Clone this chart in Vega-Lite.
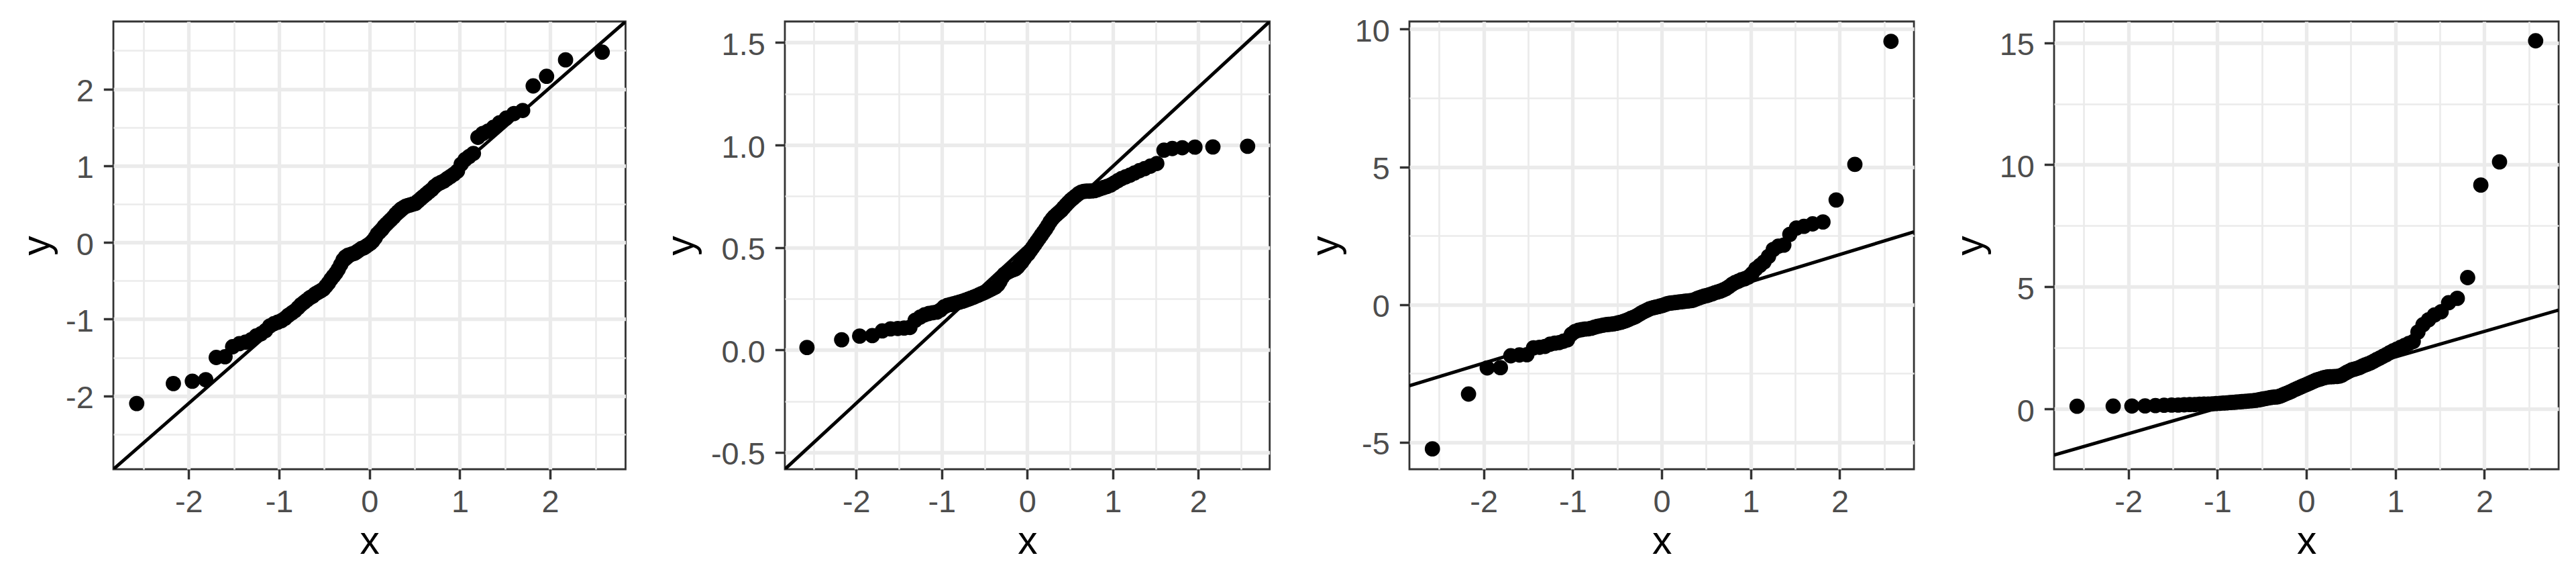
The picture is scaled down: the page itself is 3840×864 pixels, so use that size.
{
  "$schema": "https://vega.github.io/schema/vega-lite/v6.json",
  "background": "white",
  "padding": {"left": 24, "top": 22, "right": 0, "bottom": 0},
  "bounds": "flush",
  "spacing": 0,
  "config": {
    "font": "Liberation Sans",
    "view": {"stroke": "#333333", "strokeWidth": 2.8, "fill": "white"},
    "axis": {
      "domain": false,
      "labelFont": "Liberation Sans",
      "labelFontSize": 46.9,
      "labelColor": "#4D4D4D",
      "titleFont": "Liberation Sans",
      "titleFontSize": 58.7,
      "titleFontWeight": "normal",
      "titleColor": "#000000",
      "tickColor": "#333333",
      "tickWidth": 3.5,
      "tickSize": 14.7,
      "gridColor": "#EBEBEB",
      "labelOverlap": false,
      "labelFlush": false,
      "labelBound": false
    },
    "axisX": {"labelPadding": 11.5, "minExtent": 79, "maxExtent": 79, "titlePadding": 0},
    "axisY": {"labelPadding": 15, "labelOffset": 4, "titlePadding": 0}
  },
  "datasets": {
    "l1": [{"x": -2.834, "y": -2.957, "x2": 2.834, "y2": 2.88}],
    "l2": [{"x": -2.834, "y": -0.582, "x2": 2.834, "y2": 1.603}],
    "l3": [{"x": -2.834, "y": -2.95, "x2": 2.834, "y2": 2.64}],
    "l4": [{"x": -2.834, "y": -1.89, "x2": 2.834, "y2": 4.05}],
    "p1": [
      {"x": -2.5758, "y": -2.10}, {"x": -2.1701, "y": -1.84}, {"x": -1.96, "y": -1.81}, {"x": -1.8119, "y": -1.79}, {"x": -1.6954, "y": -1.50},
      {"x": -1.5982, "y": -1.49}, {"x": -1.5141, "y": -1.36}, {"x": -1.4395, "y": -1.32}, {"x": -1.3722, "y": -1.30}, {"x": -1.3106, "y": -1.27},
      {"x": -1.2536, "y": -1.22}, {"x": -1.2004, "y": -1.19}, {"x": -1.1503, "y": -1.15}, {"x": -1.1031, "y": -1.09}, {"x": -1.0581, "y": -1.06},
      {"x": -1.0152, "y": -1.04}, {"x": -0.9741, "y": -1.02}, {"x": -0.9346, "y": -0.99}, {"x": -0.8965, "y": -0.95}, {"x": -0.8596, "y": -0.92},
      {"x": -0.8239, "y": -0.89}, {"x": -0.7892, "y": -0.85}, {"x": -0.7554, "y": -0.81}, {"x": -0.7225, "y": -0.78}, {"x": -0.6903, "y": -0.75},
      {"x": -0.6588, "y": -0.72}, {"x": -0.628, "y": -0.70}, {"x": -0.5978, "y": -0.67}, {"x": -0.5681, "y": -0.65}, {"x": -0.5388, "y": -0.63},
      {"x": -0.5101, "y": -0.61}, {"x": -0.4817, "y": -0.57}, {"x": -0.4538, "y": -0.53}, {"x": -0.4261, "y": -0.48}, {"x": -0.3989, "y": -0.44},
      {"x": -0.3719, "y": -0.40}, {"x": -0.3451, "y": -0.35}, {"x": -0.3186, "y": -0.29}, {"x": -0.2924, "y": -0.23}, {"x": -0.2663, "y": -0.19},
      {"x": -0.2404, "y": -0.17}, {"x": -0.2147, "y": -0.16}, {"x": -0.1891, "y": -0.15}, {"x": -0.1637, "y": -0.14}, {"x": -0.1383, "y": -0.12},
      {"x": -0.113, "y": -0.10}, {"x": -0.0878, "y": -0.08}, {"x": -0.0627, "y": -0.07}, {"x": -0.0376, "y": -0.05}, {"x": -0.0125, "y": -0.03},
      {"x": 0.0125, "y": -0.01}, {"x": 0.0376, "y": 0.02}, {"x": 0.0627, "y": 0.06}, {"x": 0.0878, "y": 0.11}, {"x": 0.113, "y": 0.14},
      {"x": 0.1383, "y": 0.17}, {"x": 0.1637, "y": 0.21}, {"x": 0.1891, "y": 0.24}, {"x": 0.2147, "y": 0.27}, {"x": 0.2404, "y": 0.30},
      {"x": 0.2663, "y": 0.33}, {"x": 0.2924, "y": 0.37}, {"x": 0.3186, "y": 0.40}, {"x": 0.3451, "y": 0.43}, {"x": 0.3719, "y": 0.45},
      {"x": 0.3989, "y": 0.47}, {"x": 0.4261, "y": 0.48}, {"x": 0.4538, "y": 0.49}, {"x": 0.4817, "y": 0.50}, {"x": 0.5101, "y": 0.51},
      {"x": 0.5388, "y": 0.54}, {"x": 0.5681, "y": 0.57}, {"x": 0.5978, "y": 0.60}, {"x": 0.628, "y": 0.63}, {"x": 0.6588, "y": 0.66},
      {"x": 0.6903, "y": 0.69}, {"x": 0.7225, "y": 0.73}, {"x": 0.7554, "y": 0.76}, {"x": 0.7892, "y": 0.78}, {"x": 0.8239, "y": 0.80},
      {"x": 0.8596, "y": 0.83}, {"x": 0.8965, "y": 0.86}, {"x": 0.9346, "y": 0.89}, {"x": 0.9741, "y": 0.93}, {"x": 1.0152, "y": 1.02},
      {"x": 1.0581, "y": 1.08}, {"x": 1.1031, "y": 1.12}, {"x": 1.1503, "y": 1.16}, {"x": 1.2004, "y": 1.37}, {"x": 1.2536, "y": 1.42},
      {"x": 1.3106, "y": 1.45}, {"x": 1.3722, "y": 1.50}, {"x": 1.4395, "y": 1.56}, {"x": 1.5141, "y": 1.62}, {"x": 1.5982, "y": 1.68},
      {"x": 1.6954, "y": 1.72}, {"x": 1.8119, "y": 2.04}, {"x": 1.96, "y": 2.165}, {"x": 2.1701, "y": 2.38}, {"x": 2.5758, "y": 2.48}
    ],
    "p2": [
      {"x": -2.5758, "y": 0.012}, {"x": -2.1701, "y": 0.05}, {"x": -1.96, "y": 0.068}, {"x": -1.8119, "y": 0.07}, {"x": -1.6954, "y": 0.093},
      {"x": -1.5982, "y": 0.103}, {"x": -1.5141, "y": 0.105}, {"x": -1.4395, "y": 0.107}, {"x": -1.3722, "y": 0.11}, {"x": -1.3106, "y": 0.145},
      {"x": -1.2536, "y": 0.16}, {"x": -1.2004, "y": 0.172}, {"x": -1.1503, "y": 0.178}, {"x": -1.1031, "y": 0.182}, {"x": -1.0581, "y": 0.185},
      {"x": -1.0152, "y": 0.195}, {"x": -0.9741, "y": 0.21}, {"x": -0.9346, "y": 0.218}, {"x": -0.8965, "y": 0.222}, {"x": -0.8596, "y": 0.226},
      {"x": -0.8239, "y": 0.23}, {"x": -0.7892, "y": 0.234}, {"x": -0.7554, "y": 0.238}, {"x": -0.7225, "y": 0.243}, {"x": -0.6903, "y": 0.248},
      {"x": -0.6588, "y": 0.253}, {"x": -0.628, "y": 0.258}, {"x": -0.5978, "y": 0.263}, {"x": -0.5681, "y": 0.268}, {"x": -0.5388, "y": 0.274},
      {"x": -0.5101, "y": 0.279}, {"x": -0.4817, "y": 0.285}, {"x": -0.4538, "y": 0.29}, {"x": -0.4261, "y": 0.296}, {"x": -0.3989, "y": 0.302},
      {"x": -0.3719, "y": 0.308}, {"x": -0.3451, "y": 0.318}, {"x": -0.3186, "y": 0.335}, {"x": -0.2924, "y": 0.355}, {"x": -0.2663, "y": 0.37},
      {"x": -0.2404, "y": 0.377}, {"x": -0.2147, "y": 0.383}, {"x": -0.1891, "y": 0.388}, {"x": -0.1637, "y": 0.392}, {"x": -0.1383, "y": 0.396},
      {"x": -0.113, "y": 0.405}, {"x": -0.0878, "y": 0.418}, {"x": -0.0627, "y": 0.43}, {"x": -0.0376, "y": 0.445}, {"x": -0.0125, "y": 0.46},
      {"x": 0.0125, "y": 0.47}, {"x": 0.0376, "y": 0.485}, {"x": 0.0627, "y": 0.50}, {"x": 0.0878, "y": 0.515}, {"x": 0.113, "y": 0.53},
      {"x": 0.1383, "y": 0.545}, {"x": 0.1637, "y": 0.56}, {"x": 0.1891, "y": 0.575}, {"x": 0.2147, "y": 0.59}, {"x": 0.2404, "y": 0.607},
      {"x": 0.2663, "y": 0.625}, {"x": 0.2924, "y": 0.64}, {"x": 0.3186, "y": 0.652}, {"x": 0.3451, "y": 0.662}, {"x": 0.3719, "y": 0.672},
      {"x": 0.3989, "y": 0.682}, {"x": 0.4261, "y": 0.695}, {"x": 0.4538, "y": 0.708}, {"x": 0.4817, "y": 0.72}, {"x": 0.5101, "y": 0.732},
      {"x": 0.5388, "y": 0.742}, {"x": 0.5681, "y": 0.752}, {"x": 0.5978, "y": 0.762}, {"x": 0.628, "y": 0.77}, {"x": 0.6588, "y": 0.774},
      {"x": 0.6903, "y": 0.775}, {"x": 0.7225, "y": 0.775}, {"x": 0.7554, "y": 0.776}, {"x": 0.7892, "y": 0.778}, {"x": 0.8239, "y": 0.783},
      {"x": 0.8596, "y": 0.788}, {"x": 0.8965, "y": 0.793}, {"x": 0.9346, "y": 0.798}, {"x": 0.9741, "y": 0.805}, {"x": 1.0152, "y": 0.815},
      {"x": 1.0581, "y": 0.826}, {"x": 1.1031, "y": 0.837}, {"x": 1.1503, "y": 0.845}, {"x": 1.2004, "y": 0.853}, {"x": 1.2536, "y": 0.864},
      {"x": 1.3106, "y": 0.875}, {"x": 1.3722, "y": 0.885}, {"x": 1.4395, "y": 0.897}, {"x": 1.5141, "y": 0.91}, {"x": 1.5982, "y": 0.975},
      {"x": 1.6954, "y": 0.983}, {"x": 1.8119, "y": 0.987}, {"x": 1.96, "y": 0.99}, {"x": 2.1701, "y": 0.991}, {"x": 2.5758, "y": 0.994}
    ],
    "p3": [
      {"x": -2.5758, "y": -5.24}, {"x": -2.1701, "y": -3.25}, {"x": -1.96, "y": -2.30}, {"x": -1.8119, "y": -2.29}, {"x": -1.6954, "y": -1.86},
      {"x": -1.5982, "y": -1.83}, {"x": -1.5141, "y": -1.82}, {"x": -1.4395, "y": -1.57}, {"x": -1.3722, "y": -1.55}, {"x": -1.3106, "y": -1.52},
      {"x": -1.2536, "y": -1.44}, {"x": -1.2004, "y": -1.40}, {"x": -1.1503, "y": -1.38}, {"x": -1.1031, "y": -1.33}, {"x": -1.0581, "y": -1.28},
      {"x": -1.0152, "y": -1.08}, {"x": -0.9741, "y": -0.98}, {"x": -0.9346, "y": -0.93}, {"x": -0.8965, "y": -0.91}, {"x": -0.8596, "y": -0.89},
      {"x": -0.8239, "y": -0.88}, {"x": -0.7892, "y": -0.86}, {"x": -0.7554, "y": -0.82}, {"x": -0.7225, "y": -0.79}, {"x": -0.6903, "y": -0.77},
      {"x": -0.6588, "y": -0.75}, {"x": -0.628, "y": -0.73}, {"x": -0.5978, "y": -0.72}, {"x": -0.5681, "y": -0.71}, {"x": -0.5388, "y": -0.70},
      {"x": -0.5101, "y": -0.68}, {"x": -0.4817, "y": -0.66}, {"x": -0.4538, "y": -0.64}, {"x": -0.4261, "y": -0.61}, {"x": -0.3989, "y": -0.58},
      {"x": -0.3719, "y": -0.54}, {"x": -0.3451, "y": -0.50}, {"x": -0.3186, "y": -0.47}, {"x": -0.2924, "y": -0.43}, {"x": -0.2663, "y": -0.38},
      {"x": -0.2404, "y": -0.33}, {"x": -0.2147, "y": -0.28}, {"x": -0.1891, "y": -0.24}, {"x": -0.1637, "y": -0.20}, {"x": -0.1383, "y": -0.16},
      {"x": -0.113, "y": -0.13}, {"x": -0.0878, "y": -0.11}, {"x": -0.0627, "y": -0.09}, {"x": -0.0376, "y": -0.07}, {"x": -0.0125, "y": -0.05},
      {"x": 0.0125, "y": -0.03}, {"x": 0.0376, "y": 0.0}, {"x": 0.0627, "y": 0.03}, {"x": 0.0878, "y": 0.05}, {"x": 0.113, "y": 0.06},
      {"x": 0.1383, "y": 0.07}, {"x": 0.1637, "y": 0.08}, {"x": 0.1891, "y": 0.09}, {"x": 0.2147, "y": 0.10}, {"x": 0.2404, "y": 0.11},
      {"x": 0.2663, "y": 0.12}, {"x": 0.2924, "y": 0.13}, {"x": 0.3186, "y": 0.14}, {"x": 0.3451, "y": 0.15}, {"x": 0.3719, "y": 0.18},
      {"x": 0.3989, "y": 0.22}, {"x": 0.4261, "y": 0.25}, {"x": 0.4538, "y": 0.28}, {"x": 0.4817, "y": 0.31}, {"x": 0.5101, "y": 0.33},
      {"x": 0.5388, "y": 0.36}, {"x": 0.5681, "y": 0.39}, {"x": 0.5978, "y": 0.43}, {"x": 0.628, "y": 0.46}, {"x": 0.6588, "y": 0.49},
      {"x": 0.6903, "y": 0.53}, {"x": 0.7225, "y": 0.58}, {"x": 0.7554, "y": 0.65}, {"x": 0.7892, "y": 0.73}, {"x": 0.8239, "y": 0.80},
      {"x": 0.8596, "y": 0.85}, {"x": 0.8965, "y": 0.90}, {"x": 0.9346, "y": 0.94}, {"x": 0.9741, "y": 1.00}, {"x": 1.0152, "y": 1.12},
      {"x": 1.0581, "y": 1.30}, {"x": 1.1031, "y": 1.42}, {"x": 1.1503, "y": 1.55}, {"x": 1.2004, "y": 1.75}, {"x": 1.2536, "y": 2.00},
      {"x": 1.3106, "y": 2.12}, {"x": 1.3722, "y": 2.16}, {"x": 1.4395, "y": 2.55}, {"x": 1.5141, "y": 2.78}, {"x": 1.5982, "y": 2.84},
      {"x": 1.6954, "y": 2.93}, {"x": 1.8119, "y": 3.00}, {"x": 1.96, "y": 3.80}, {"x": 2.1701, "y": 5.09}, {"x": 2.5758, "y": 9.56}
    ],
    "p4": [
      {"x": -2.5758, "y": 0.11}, {"x": -2.1701, "y": 0.115}, {"x": -1.96, "y": 0.12}, {"x": -1.8119, "y": 0.125}, {"x": -1.6954, "y": 0.14},
      {"x": -1.5982, "y": 0.15}, {"x": -1.5141, "y": 0.16}, {"x": -1.4395, "y": 0.16}, {"x": -1.3722, "y": 0.17}, {"x": -1.3106, "y": 0.18},
      {"x": -1.2536, "y": 0.18}, {"x": -1.2004, "y": 0.19}, {"x": -1.1503, "y": 0.20}, {"x": -1.1031, "y": 0.20}, {"x": -1.0581, "y": 0.21},
      {"x": -1.0152, "y": 0.22}, {"x": -0.9741, "y": 0.23}, {"x": -0.9346, "y": 0.24}, {"x": -0.8965, "y": 0.25}, {"x": -0.8596, "y": 0.26},
      {"x": -0.8239, "y": 0.27}, {"x": -0.7892, "y": 0.28}, {"x": -0.7554, "y": 0.29}, {"x": -0.7225, "y": 0.30}, {"x": -0.6903, "y": 0.31},
      {"x": -0.6588, "y": 0.32}, {"x": -0.628, "y": 0.33}, {"x": -0.5978, "y": 0.34}, {"x": -0.5681, "y": 0.35}, {"x": -0.5388, "y": 0.37},
      {"x": -0.5101, "y": 0.39}, {"x": -0.4817, "y": 0.41}, {"x": -0.4538, "y": 0.43}, {"x": -0.4261, "y": 0.45}, {"x": -0.3989, "y": 0.47},
      {"x": -0.3719, "y": 0.48}, {"x": -0.3451, "y": 0.49}, {"x": -0.3186, "y": 0.50}, {"x": -0.2924, "y": 0.53}, {"x": -0.2663, "y": 0.57},
      {"x": -0.2404, "y": 0.61}, {"x": -0.2147, "y": 0.65}, {"x": -0.1891, "y": 0.69}, {"x": -0.1637, "y": 0.73}, {"x": -0.1383, "y": 0.78},
      {"x": -0.113, "y": 0.82}, {"x": -0.0878, "y": 0.86}, {"x": -0.0627, "y": 0.90}, {"x": -0.0376, "y": 0.94}, {"x": -0.0125, "y": 0.98},
      {"x": 0.0125, "y": 1.02}, {"x": 0.0376, "y": 1.06}, {"x": 0.0627, "y": 1.10}, {"x": 0.0878, "y": 1.14}, {"x": 0.113, "y": 1.18},
      {"x": 0.1383, "y": 1.21}, {"x": 0.1637, "y": 1.24}, {"x": 0.1891, "y": 1.27}, {"x": 0.2147, "y": 1.29}, {"x": 0.2404, "y": 1.31},
      {"x": 0.2663, "y": 1.32}, {"x": 0.2924, "y": 1.32}, {"x": 0.3186, "y": 1.33}, {"x": 0.3451, "y": 1.33}, {"x": 0.3719, "y": 1.35},
      {"x": 0.3989, "y": 1.38}, {"x": 0.4261, "y": 1.44}, {"x": 0.4538, "y": 1.50}, {"x": 0.4817, "y": 1.55}, {"x": 0.5101, "y": 1.60},
      {"x": 0.5388, "y": 1.63}, {"x": 0.5681, "y": 1.66}, {"x": 0.5978, "y": 1.70}, {"x": 0.628, "y": 1.75}, {"x": 0.6588, "y": 1.80},
      {"x": 0.6903, "y": 1.84}, {"x": 0.7225, "y": 1.89}, {"x": 0.7554, "y": 1.95}, {"x": 0.7892, "y": 2.02}, {"x": 0.8239, "y": 2.08},
      {"x": 0.8596, "y": 2.15}, {"x": 0.8965, "y": 2.22}, {"x": 0.9346, "y": 2.30}, {"x": 0.9741, "y": 2.38}, {"x": 1.0152, "y": 2.45},
      {"x": 1.0581, "y": 2.52}, {"x": 1.1031, "y": 2.60}, {"x": 1.1503, "y": 2.68}, {"x": 1.2004, "y": 2.76}, {"x": 1.2536, "y": 3.15},
      {"x": 1.3106, "y": 3.45}, {"x": 1.3722, "y": 3.65}, {"x": 1.4395, "y": 3.85}, {"x": 1.5141, "y": 3.98}, {"x": 1.5982, "y": 4.35},
      {"x": 1.6954, "y": 4.53}, {"x": 1.8119, "y": 5.38}, {"x": 1.96, "y": 9.17}, {"x": 2.1701, "y": 10.12}, {"x": 2.5758, "y": 15.08}
    ]
  },
  "hconcat": [
    {
      "width": 763.5,
      "height": 667,
      "encoding": {
        "x": {"field": "x", "type": "quantitative", "scale": {"domain": [-2.834, 2.834], "nice": false, "zero": false},
          "axis": {"title": "x", "values": [-2.5, -2, -1.5, -1, -0.5, 0, 0.5, 1, 1.5, 2, 2.5],
            "labelExpr": "datum.value % 1 === 0 ? (datum.value < 0 ? '-' + abs(datum.value) : '' + datum.value) : ''",
            "gridWidth": {"condition": {"test": "datum.value % 1 === 0", "value": 5.3}, "value": 2.7},
            "tickOpacity": {"condition": {"test": "datum.value % 1 === 0", "value": 1}, "value": 0}}},
        "y": {"field": "y", "type": "quantitative", "scale": {"domain": [-2.957, 2.88], "nice": false, "zero": false},
          "axis": {"title": "y", "minExtent": 83.9, "maxExtent": 83.9, "values": [-2.5, -2, -1.5, -1, -0.5, 0, 0.5, 1, 1.5, 2, 2.5],
            "labelExpr": "datum.value % 1 === 0 ? (datum.value < 0 ? '-' + abs(datum.value) : '' + datum.value) : ''",
            "gridWidth": {"condition": {"test": "datum.value % 1 === 0", "value": 5.3}, "value": 2.7},
            "tickOpacity": {"condition": {"test": "datum.value % 1 === 0", "value": 1}, "value": 0}}}
      },
      "layer": [
        {"data": {"name": "p1"}, "mark": {"type": "point", "filled": true, "color": "black", "opacity": 1, "size": 520, "strokeWidth": 0}},
        {"data": {"name": "l1"}, "mark": {"type": "rule", "color": "black", "strokeWidth": 5, "clip": true},
          "encoding": {"x2": {"field": "x2"}, "y2": {"field": "y2"}}}
      ]
    },
    {"width": 236.9, "height": 667, "data": {"values": [{"a": 0}]}, "mark": {"type": "point", "opacity": 0}, "view": {"stroke": null, "fill": null}},
    {
      "width": 722.7,
      "height": 667,
      "encoding": {
        "x": {"field": "x", "type": "quantitative", "scale": {"domain": [-2.834, 2.834], "nice": false, "zero": false},
          "axis": {"title": "x", "values": [-2.5, -2, -1.5, -1, -0.5, 0, 0.5, 1, 1.5, 2, 2.5],
            "labelExpr": "datum.value % 1 === 0 ? (datum.value < 0 ? '-' + abs(datum.value) : '' + datum.value) : ''",
            "gridWidth": {"condition": {"test": "datum.value % 1 === 0", "value": 5.3}, "value": 2.7},
            "tickOpacity": {"condition": {"test": "datum.value % 1 === 0", "value": 1}, "value": 0}}},
        "y": {"field": "y", "type": "quantitative", "scale": {"domain": [-0.582, 1.603], "nice": false, "zero": false},
          "axis": {"title": "y", "minExtent": 124.3, "maxExtent": 124.3, "values": [-0.5, -0.25, 0, 0.25, 0.5, 0.75, 1, 1.25, 1.5],
            "labelExpr": "datum.value % 0.5 === 0 ? (datum.value < 0 ? '-' + format(abs(datum.value), '.1f') : format(datum.value, '.1f')) : ''",
            "gridWidth": {"condition": {"test": "datum.value % 0.5 === 0", "value": 5.3}, "value": 2.7},
            "tickOpacity": {"condition": {"test": "datum.value % 0.5 === 0", "value": 1}, "value": 0}}}
      },
      "layer": [
        {"data": {"name": "p2"}, "mark": {"type": "point", "filled": true, "color": "black", "opacity": 1, "size": 520, "strokeWidth": 0}},
        {"data": {"name": "l2"}, "mark": {"type": "rule", "color": "black", "strokeWidth": 5, "clip": true},
          "encoding": {"x2": {"field": "x2"}, "y2": {"field": "y2"}}}
      ]
    },
    {"width": 207.9, "height": 667, "data": {"values": [{"a": 0}]}, "mark": {"type": "point", "opacity": 0}, "view": {"stroke": null, "fill": null}},
    {
      "width": 752.1,
      "height": 667,
      "encoding": {
        "x": {"field": "x", "type": "quantitative", "scale": {"domain": [-2.834, 2.834], "nice": false, "zero": false},
          "axis": {"title": "x", "values": [-2.5, -2, -1.5, -1, -0.5, 0, 0.5, 1, 1.5, 2, 2.5],
            "labelExpr": "datum.value % 1 === 0 ? (datum.value < 0 ? '-' + abs(datum.value) : '' + datum.value) : ''",
            "gridWidth": {"condition": {"test": "datum.value % 1 === 0", "value": 5.3}, "value": 2.7},
            "tickOpacity": {"condition": {"test": "datum.value % 1 === 0", "value": 1}, "value": 0}}},
        "y": {"field": "y", "type": "quantitative", "scale": {"domain": [-5.98, 10.28], "nice": false, "zero": false},
          "axis": {"title": "y", "minExtent": 94.9, "maxExtent": 94.9, "values": [-5, -2.5, 0, 2.5, 5, 7.5, 10],
            "labelExpr": "datum.value % 5 === 0 ? (datum.value < 0 ? '-' + abs(datum.value) : '' + datum.value) : ''",
            "gridWidth": {"condition": {"test": "datum.value % 5 === 0", "value": 5.3}, "value": 2.7},
            "tickOpacity": {"condition": {"test": "datum.value % 5 === 0", "value": 1}, "value": 0}}}
      },
      "layer": [
        {"data": {"name": "p3"}, "mark": {"type": "point", "filled": true, "color": "black", "opacity": 1, "size": 520, "strokeWidth": 0}},
        {"data": {"name": "l3"}, "mark": {"type": "rule", "color": "black", "strokeWidth": 5, "clip": true},
          "encoding": {"x2": {"field": "x2"}, "y2": {"field": "y2"}}}
      ]
    },
    {"width": 207.9, "height": 667, "data": {"values": [{"a": 0}]}, "mark": {"type": "point", "opacity": 0}, "view": {"stroke": null, "fill": null}},
    {
      "width": 752.1,
      "height": 667,
      "encoding": {
        "x": {"field": "x", "type": "quantitative", "scale": {"domain": [-2.834, 2.834], "nice": false, "zero": false},
          "axis": {"title": "x", "values": [-2.5, -2, -1.5, -1, -0.5, 0, 0.5, 1, 1.5, 2, 2.5],
            "labelExpr": "datum.value % 1 === 0 ? (datum.value < 0 ? '-' + abs(datum.value) : '' + datum.value) : ''",
            "gridWidth": {"condition": {"test": "datum.value % 1 === 0", "value": 5.3}, "value": 2.7},
            "tickOpacity": {"condition": {"test": "datum.value % 1 === 0", "value": 1}, "value": 0}}},
        "y": {"field": "y", "type": "quantitative", "scale": {"domain": [-2.47, 15.87], "nice": false, "zero": false},
          "axis": {"title": "y", "minExtent": 94.9, "maxExtent": 94.9, "values": [0, 2.5, 5, 7.5, 10, 12.5, 15],
            "labelExpr": "datum.value % 5 === 0 ? (datum.value < 0 ? '-' + abs(datum.value) : '' + datum.value) : ''",
            "gridWidth": {"condition": {"test": "datum.value % 5 === 0", "value": 5.3}, "value": 2.7},
            "tickOpacity": {"condition": {"test": "datum.value % 5 === 0", "value": 1}, "value": 0}}}
      },
      "layer": [
        {"data": {"name": "p4"}, "mark": {"type": "point", "filled": true, "color": "black", "opacity": 1, "size": 520, "strokeWidth": 0}},
        {"data": {"name": "l4"}, "mark": {"type": "rule", "color": "black", "strokeWidth": 5, "clip": true},
          "encoding": {"x2": {"field": "x2"}, "y2": {"field": "y2"}}}
      ]
    }
  ]
}
